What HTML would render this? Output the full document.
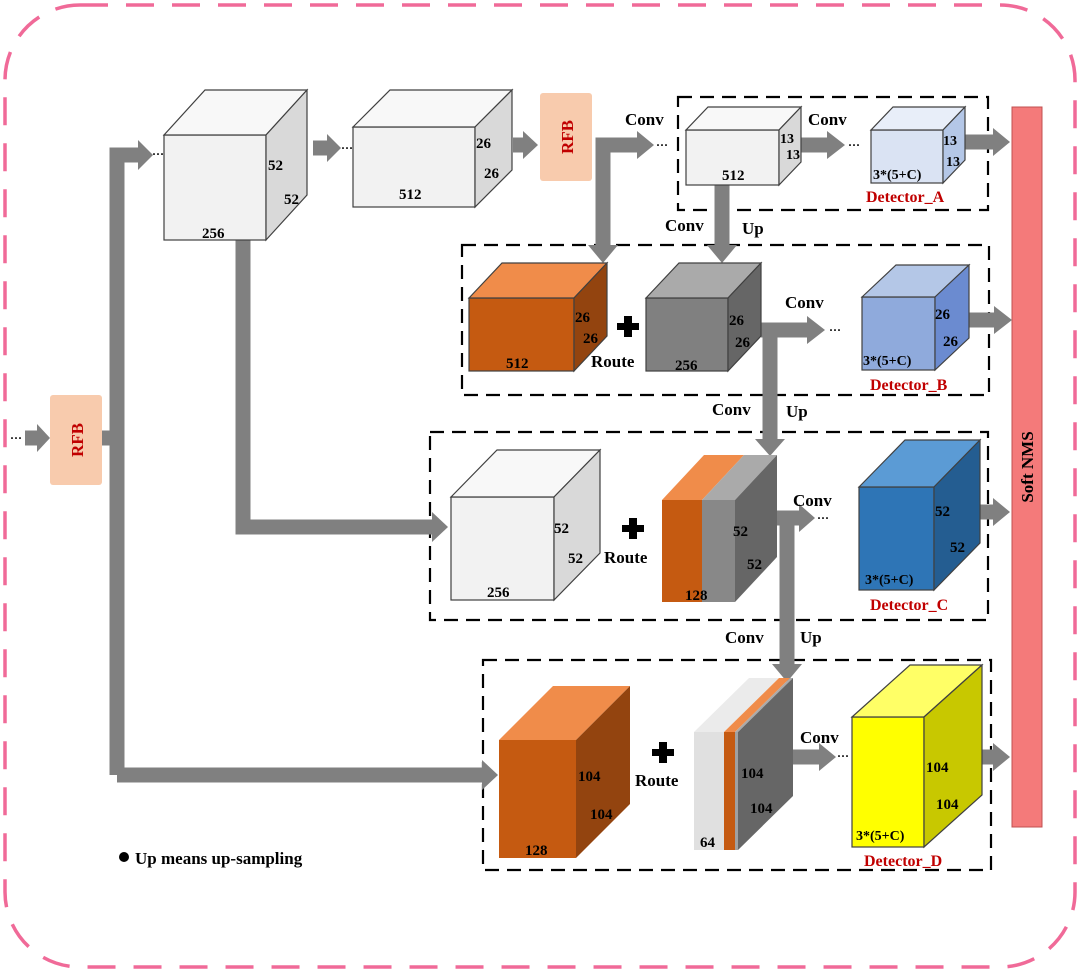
<!DOCTYPE html>
<html><head><meta charset="utf-8"><style>
html,body{margin:0;padding:0;background:#fff;}
svg{display:block;font-family:"Liberation Serif",serif;font-weight:bold;}
</style></head><body>
<svg width="1081" height="973" viewBox="0 0 1081 973" xmlns="http://www.w3.org/2000/svg">
<rect x="5" y="5" width="1070" height="962" rx="75" fill="none" stroke="#f06a98" stroke-width="3.5" stroke-dasharray="28 18"/>

<!-- dashed boxes -->
<g fill="none" stroke="#000" stroke-width="2.2" stroke-dasharray="14 8">
<rect x="678" y="97" width="310" height="113"/>
<rect x="462" y="245" width="527" height="150"/>
<rect x="430" y="432" width="558" height="188"/>
<rect x="483" y="660" width="508" height="210"/>
</g>

<!-- Soft NMS -->
<rect x="1012" y="107" width="30" height="720" fill="#f47a7a" stroke="#c05050" stroke-width="1"/>
<text transform="translate(1033,467) rotate(-90)" text-anchor="middle" font-size="17" fill="#000">Soft NMS</text>

<!-- RFBs -->
<rect x="50" y="395" width="52" height="90" rx="3" fill="#f8cbad"/>
<text transform="translate(83,440) rotate(-90)" text-anchor="middle" font-size="17" fill="#c00000">RFB</text>
<rect x="540" y="93" width="52" height="88" rx="3" fill="#f8cbad"/>
<text transform="translate(573,137) rotate(-90)" text-anchor="middle" font-size="17" fill="#c00000">RFB</text>

<!-- arrows -->
<g stroke="#808080" stroke-width="15" fill="none">
<line x1="25" y1="438" x2="38" y2="438"/>
<line x1="102" y1="438" x2="118" y2="438"/>
<polyline points="117,775 117,155 140,155"/>
<line x1="117" y1="775" x2="482" y2="775"/>
<polyline points="243,240 243,527 432,527"/>
<line x1="313" y1="148" x2="328" y2="148"/>
<line x1="513" y1="145" x2="524" y2="145"/>
<polyline points="603,246 603,145 638,145"/>
<line x1="722" y1="185" x2="722" y2="246"/>
<line x1="801" y1="145" x2="828" y2="145"/>
<line x1="965" y1="142" x2="994" y2="142"/>
<polyline points="770,440 770,330 808,330"/>
<line x1="761" y1="330" x2="770" y2="330"/>
<line x1="969" y1="320" x2="995" y2="320"/>
<polyline points="787,665 787,518 800,518"/>
<line x1="777" y1="518" x2="787" y2="518"/>
<line x1="980" y1="512" x2="994" y2="512"/>
<line x1="793" y1="757" x2="820" y2="757"/>
<line x1="982" y1="757" x2="994" y2="757"/>
</g>
<g fill="#808080">
<polygon points="37,424 50,438 37,452"/>
<polygon points="138,140 153,155 138,170"/>
<polygon points="482,760 498,775 482,790"/>
<polygon points="432,512 448,527 432,542"/>
<polygon points="327,134 341,148 327,162"/>
<polygon points="523,131 538,145 523,159"/>
<polygon points="637,131 654,145 637,159"/>
<polygon points="588,245 603,263 618,245"/>
<polygon points="707,245 722,263 737,245"/>
<polygon points="827,131 845,145 827,159"/>
<polygon points="993,128 1010,142 993,156"/>
<polygon points="807,316 825,330 807,344"/>
<polygon points="755,439 770,456 785,439"/>
<polygon points="994,306 1012,320 994,334"/>
<polygon points="799,504 815,518 799,532"/>
<polygon points="772,664 787,682 802,664"/>
<polygon points="993,498 1010,512 993,526"/>
<polygon points="819,743 836,757 819,771"/>
<polygon points="993,743 1010,757 993,771"/>
</g>
<g fill="#000" font-size="12">
<text x="10" y="442">···</text>
<text x="152" y="158">···</text>
<text x="341" y="152">···</text>
<text x="656" y="149">···</text>
<text x="848" y="149">···</text>
<text x="829" y="334">···</text>
<text x="817" y="522">···</text>
<text x="837" y="760">···</text>
</g>

<!-- cubes -->
<g stroke="#404040" stroke-width="1.2">
<!-- 1 -->
<rect x="164" y="135" width="102" height="105" fill="#f2f2f2"/>
<polygon points="164,135 205,90 307,90 266,135" fill="#f8f8f8"/>
<polygon points="266,135 307,90 307,195 266,240" fill="#d9d9d9"/>
<!-- 2 -->
<rect x="353" y="127" width="122" height="80" fill="#f2f2f2"/>
<polygon points="353,127 390,90 512,90 475,127" fill="#f8f8f8"/>
<polygon points="475,127 512,90 512,170 475,207" fill="#d9d9d9"/>
<!-- 4 -->
<rect x="686" y="130" width="93" height="55" fill="#f2f2f2"/>
<polygon points="686,130 708,107 801,107 779,130" fill="#f8f8f8"/>
<polygon points="779,130 801,107 801,162 779,185" fill="#d9d9d9"/>
<!-- 5 -->
<rect x="871" y="130" width="72" height="53" fill="#dae3f3"/>
<polygon points="871,130 893,107 965,107 943,130" fill="#e8eef9"/>
<polygon points="943,130 965,107 965,160 943,183" fill="#b4c7e7"/>
<!-- 6 -->
<rect x="469" y="298" width="105" height="73" fill="#c55a11"/>
<polygon points="469,298 502,263 607,263 574,298" fill="#f08c4a"/>
<polygon points="574,298 607,263 607,336 574,371" fill="#93440f"/>
<!-- 7 -->
<rect x="646" y="298" width="82" height="73" fill="#808080"/>
<polygon points="646,298 679,263 761,263 728,298" fill="#aaaaaa"/>
<polygon points="728,298 761,263 761,336 728,371" fill="#666666"/>
<!-- 8 -->
<rect x="862" y="297" width="73" height="73" fill="#8faadc"/>
<polygon points="862,297 896,265 969,265 935,297" fill="#b4c7e7"/>
<polygon points="935,297 969,265 969,338 935,370" fill="#6b8bd0"/>
<!-- 9 -->
<rect x="451" y="497" width="103" height="103" fill="#f2f2f2"/>
<polygon points="451,497 497,450 600,450 554,497" fill="#f8f8f8"/>
<polygon points="554,497 600,450 600,553 554,600" fill="#d9d9d9"/>
<!-- 11 -->
<rect x="859" y="487" width="75" height="103" fill="#2e75b6"/>
<polygon points="859,487 905,440 980,440 934,487" fill="#5b9bd5"/>
<polygon points="934,487 980,440 980,543 934,590" fill="#245d91"/>
<!-- 14 -->
<rect x="852" y="717" width="72" height="130" fill="#ffff00"/>
<polygon points="852,717 910,665 982,665 924,717" fill="#ffff66"/>
<polygon points="924,717 982,665 982,795 924,847" fill="#c8c800"/>
</g>
<g stroke="none">
<!-- 10 -->
<rect x="662" y="500" width="40" height="102" fill="#c55a11"/>
<rect x="702" y="500" width="33" height="102" fill="#888888"/>
<polygon points="662,500 704,455 744,455 702,500" fill="#f08c4a"/>
<polygon points="702,500 744,455 777,455 735,500" fill="#aaaaaa"/>
<polygon points="735,500 777,455 777,557 735,602" fill="#666666"/>
<!-- 12 -->
<rect x="499" y="740" width="77" height="118" fill="#c55a11"/>
<polygon points="499,740 553,686 630,686 576,740" fill="#f08c4a"/>
<polygon points="576,740 630,686 630,804 576,858" fill="#93440f"/>
<!-- 13 -->
<rect x="694" y="732" width="30" height="118" fill="#e0e0e0"/>
<rect x="724" y="732" width="11" height="118" fill="#c55a11"/>
<rect x="735" y="732" width="3" height="118" fill="#a0a0a0"/>
<polygon points="694,732 749,678 779,678 724,732" fill="#ebebeb"/>
<polygon points="724,732 779,678 790,678 735,732" fill="#f08c4a"/>
<polygon points="735,732 790,678 793,678 738,732" fill="#aaaaaa"/>
<polygon points="738,732 793,678 793,796 738,850" fill="#666666"/>
</g>

<!-- labels -->
<g fill="#000" font-size="15">
<text x="268" y="170">52</text><text x="284" y="204">52</text><text x="202" y="238">256</text>
<text x="476" y="148">26</text><text x="484" y="178">26</text><text x="399" y="199">512</text>
<text x="780" y="143" font-size="14">13</text><text x="786" y="159" font-size="14">13</text><text x="722" y="180">512</text>
<text x="943" y="145" font-size="14">13</text><text x="946" y="166" font-size="14">13</text><text x="873" y="179" font-size="14">3*(5+C)</text>
<text x="575" y="322">26</text><text x="583" y="343">26</text><text x="506" y="368">512</text>
<text x="729" y="325">26</text><text x="735" y="347">26</text><text x="675" y="370">256</text>
<text x="935" y="319">26</text><text x="943" y="346">26</text><text x="863" y="365" font-size="14">3*(5+C)</text>
<text x="554" y="533">52</text><text x="568" y="563">52</text><text x="487" y="597">256</text>
<text x="733" y="536">52</text><text x="747" y="569">52</text><text x="685" y="600">128</text>
<text x="935" y="516">52</text><text x="950" y="552">52</text><text x="865" y="584" font-size="14">3*(5+C)</text>
<text x="578" y="781">104</text><text x="590" y="819">104</text><text x="525" y="855">128</text>
<text x="741" y="778">104</text><text x="750" y="813">104</text><text x="700" y="847">64</text>
<text x="926" y="772">104</text><text x="936" y="809">104</text><text x="856" y="840" font-size="14">3*(5+C)</text>
</g>
<g fill="#000" font-size="17">
<text x="625" y="125">Conv</text>
<text x="808" y="125">Conv</text>
<text x="665" y="231">Conv</text><text x="742" y="234">Up</text>
<text x="785" y="308">Conv</text>
<text x="712" y="415">Conv</text><text x="786" y="417">Up</text>
<text x="793" y="506">Conv</text>
<text x="725" y="643">Conv</text><text x="800" y="643">Up</text>
<text x="800" y="743">Conv</text>
<text x="591" y="367">Route</text>
<text x="604" y="563">Route</text>
<text x="635" y="786">Route</text>
</g>
<g fill="#000">
<rect x="617" y="323" width="22" height="7"/><rect x="624" y="316" width="8" height="21"/>
<rect x="622" y="525" width="22" height="7"/><rect x="629" y="518" width="8" height="21"/>
<rect x="652" y="749" width="22" height="7"/><rect x="659" y="742" width="8" height="21"/>
</g>
<g fill="#c00000" font-size="16">
<text x="866" y="202">Detector_A</text>
<text x="870" y="390">Detector_B</text>
<text x="870" y="610">Detector_C</text>
<text x="864" y="866">Detector_D</text>
</g>
<circle cx="124" cy="857" r="5" fill="#000"/>
<text x="135" y="864" font-size="17" fill="#000">Up means up-sampling</text>
</svg>
</body></html>
